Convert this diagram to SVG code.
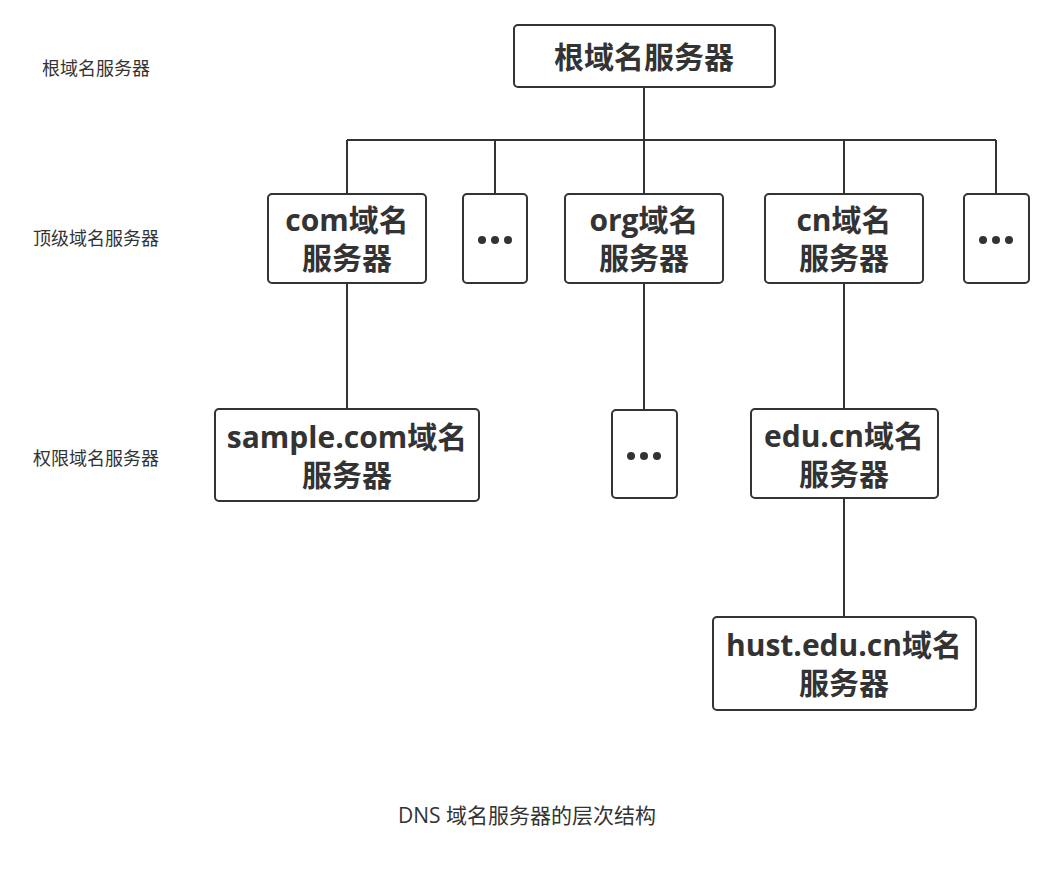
<svg xmlns="http://www.w3.org/2000/svg" width="1054" height="870" viewBox="0 0 1054 870">
<style>
.box{fill:#fff;stroke:#333;stroke-width:2}
.t{font-family:"Open Sans","Noto Sans CJK SC",sans-serif;font-weight:bold;font-size:30px;fill:#333;text-anchor:middle}
.lbl{font-family:"Open Sans","Noto Sans CJK SC",sans-serif;font-size:18px;fill:#333}
.cap{font-family:"Open Sans","Noto Sans CJK SC",sans-serif;font-size:21px;fill:#333;text-anchor:middle}
.c{fill:none;stroke:#333;stroke-width:2}
.dot{fill:#333}
</style>
<rect width="1054" height="870" fill="#fff"/>
<g id="connectors">
<path class="c" d="M644 87V140M347 140H996M347 140V194M495 140V194M644 140V194M844 140V194M996 140V194"/>
<path class="c" d="M347 283V409M644 283V410M844 283V409M844 498V617"/>
</g>
<g id="root"><rect class="box" x="514" y="25" width="261" height="62" rx="4"/><text class="t" x="644" y="68">根域名服务器</text></g>
<g id="com"><rect class="box" x="268" y="194" width="158" height="89" rx="4"/><text class="t" x="347" y="231">com域名</text><text class="t" x="347" y="269">服务器</text></g>
<g id="dots1"><rect class="box" x="463" y="194" width="64" height="89" rx="4"/><circle class="dot" cx="482" cy="240" r="4"/><circle class="dot" cx="495" cy="240" r="4"/><circle class="dot" cx="508" cy="240" r="4"/></g>
<g id="org"><rect class="box" x="565" y="194" width="158" height="89" rx="4"/><text class="t" x="644" y="231">org域名</text><text class="t" x="644" y="269">服务器</text></g>
<g id="cn"><rect class="box" x="765" y="194" width="158" height="89" rx="4"/><text class="t" x="844" y="231">cn域名</text><text class="t" x="844" y="269">服务器</text></g>
<g id="dots2"><rect class="box" x="964" y="194" width="65" height="89" rx="4"/><circle class="dot" cx="983" cy="240" r="4"/><circle class="dot" cx="996" cy="240" r="4"/><circle class="dot" cx="1009" cy="240" r="4"/></g>
<g id="sample"><rect class="box" x="215" y="409" width="264" height="92" rx="4"/><text class="t" x="347" y="448">sample.com域名</text><text class="t" x="347" y="486">服务器</text></g>
<g id="dots3"><rect class="box" x="612" y="410" width="65" height="88" rx="4"/><circle class="dot" cx="631" cy="456" r="4"/><circle class="dot" cx="644" cy="456" r="4"/><circle class="dot" cx="657" cy="456" r="4"/></g>
<g id="educn"><rect class="box" x="751" y="409" width="187" height="89" rx="4"/><text class="t" x="844" y="447">edu.cn域名</text><text class="t" x="844" y="485">服务器</text></g>
<g id="hust"><rect class="box" x="713" y="617" width="263" height="93" rx="4"/><text class="t" x="844" y="656">hust.edu.cn域名</text><text class="t" x="844" y="694">服务器</text></g>
<g id="labels">
<text class="lbl" x="42" y="75">根域名服务器</text>
<text class="lbl" x="33" y="245">顶级域名服务器</text>
<text class="lbl" x="33" y="465">权限域名服务器</text>
<text class="cap" x="527" y="823">DNS 域名服务器的层次结构</text>
</g>
</svg>
